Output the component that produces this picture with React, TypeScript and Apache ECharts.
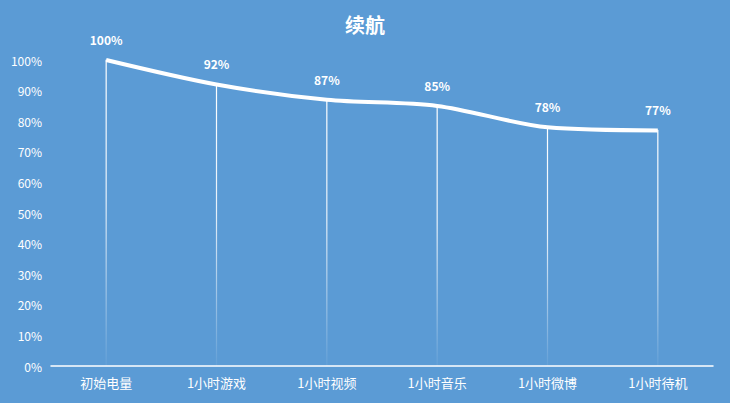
import React, { useEffect, useRef } from "react";
import * as echarts from "echarts";

const categories = ["初始电量", "1小时游戏", "1小时视频", "1小时音乐", "1小时微博", "1小时待机"];
const values = [100, 92, 87, 85, 78, 77];
const titleText = "续航";

export default function App() {
  const ref = useRef<HTMLDivElement>(null);
  useEffect(() => {
    const chart = echarts.init(ref.current!, null, { renderer: "svg" });
    const font = '"Noto Sans CJK SC", "Microsoft YaHei", sans-serif';
    chart.setOption({
      animation: false,
      backgroundColor: "#5b9bd5",
      title: {
        text: titleText,
        left: "center",
        top: 9,
        textStyle: { color: "#ffffff", fontSize: 20, fontWeight: "bold", fontFamily: font },
      },
      grid: { left: 51, right: 17, top: 60, bottom: 37 },
      xAxis: {
        type: "category",
        data: categories,
        boundaryGap: true,
        axisLine: { show: true, lineStyle: { color: "#ffffff", width: 1.5 } },
        axisTick: { show: false },
        axisLabel: { color: "#ffffff", fontSize: 13, fontFamily: font, margin: 10 },
        splitLine: { show: false },
      },
      yAxis: {
        type: "value",
        min: 0,
        max: 100,
        interval: 10,
        axisLine: { show: false },
        axisTick: { show: false },
        splitLine: { show: false },
        axisLabel: { color: "#ffffff", fontSize: 12, fontFamily: font, formatter: "{value}%", margin: 9 },
      },
      series: [
        {
          type: "bar",
          data: values,
          barWidth: 1.2,
          silent: true,
          itemStyle: {
            color: new echarts.graphic.LinearGradient(0, 0, 0, 1, [
              { offset: 0, color: "rgba(255,255,255,1)" },
              { offset: 0.45, color: "rgba(255,255,255,0.85)" },
              { offset: 1, color: "rgba(255,255,255,0.05)" },
            ]),
          },
        },
        {
          type: "line",
          data: values,
          smooth: 0.3,
          symbol: "circle",
          symbolSize: 1,
          itemStyle: { color: "#ffffff" },
          lineStyle: { color: "#ffffff", width: 4 },
          label: {
            show: true,
            position: "top",
            distance: 14,
            color: "#ffffff",
            fontSize: 12,
            fontWeight: "bold",
            fontFamily: font,
            formatter: "{c}%",
          },
        },
      ],
    });
    return () => chart.dispose();
  }, []);
  return <div ref={ref} style={{ width: 730, height: 403, position: "absolute", left: 0, top: 0 }} />;
}
